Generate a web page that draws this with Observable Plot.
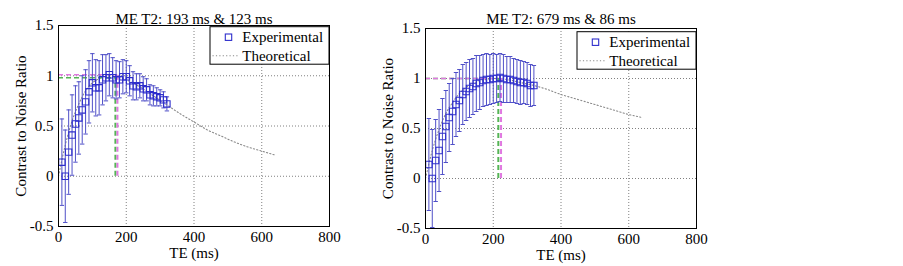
<!DOCTYPE html>
<html><head><meta charset="utf-8">
<script src="https://cdn.jsdelivr.net/npm/d3@7"></script>
<script src="https://cdn.jsdelivr.net/npm/@observablehq/plot@0.6"></script>
<style>
body{margin:0;background:#fff;width:903px;height:266px;position:relative;overflow:hidden;font-family:"Liberation Serif",serif}
.panel{position:absolute;top:0}
svg, svg text, svg tspan{font-family:"Liberation Serif","DejaVu Serif",serif !important;font-size:15px !important;}
</style></head><body>
<div id="p1" class="panel" style="left:0px"></div>
<div id="p2" class="panel" style="left:367px"></div>
<script>
// Echo times (ms) of the experimental points
const te = [10,20,30,40,50,60,70,80,90,100,110,120,130,140,150,160,170,180,190,200,210,220,230,240,250,260,270,280,290,300,310,320];
// Left panel (ME T2: 193 ms & 123 ms)
const leftCnr = [0.14,0.00,0.24,0.41,0.52,0.58,0.66,0.74,0.84,0.93,0.88,0.88,0.96,0.98,1.01,0.98,0.96,0.96,0.99,0.99,0.95,0.90,0.89,0.90,0.87,0.86,0.81,0.80,0.79,0.78,0.76,0.72];
const leftErr = [0.43,0.46,0.42,0.40,0.38,0.36,0.34,0.32,0.31,0.29,0.28,0.27,0.25,0.23,0.21,0.20,0.19,0.18,0.17,0.16,0.15,0.14,0.13,0.12,0.12,0.11,0.10,0.10,0.09,0.08,0.08,0.07];
// Right panel (ME T2: 679 ms & 86 ms)
const rightCnr = [0.14,0.00,0.18,0.28,0.42,0.52,0.61,0.67,0.74,0.78,0.84,0.87,0.90,0.92,0.95,0.96,0.98,0.99,0.99,1.00,1.00,1.01,1.00,0.99,0.99,0.98,0.97,0.96,0.96,0.95,0.93,0.93];
const rightErr = [0.46,0.49,0.41,0.41,0.38,0.36,0.34,0.33,0.32,0.31,0.30,0.29,0.29,0.28,0.28,0.27,0.26,0.26,0.25,0.25,0.24,0.24,0.24,0.23,0.23,0.22,0.22,0.22,0.21,0.21,0.21,0.20];
// Theoretical curves
const theoTe = [0,20,40,60,80,100,120,140,160,180,200,240,280,320,360,400,440,480,520,560,600,640];
const leftTheo = [0,0.31,0.55,0.72,0.85,0.93,0.97,1.00,1.00,0.99,0.96,0.89,0.80,0.71,0.62,0.54,0.46,0.40,0.34,0.29,0.25,0.21];
const rightTheo = [0,0.28,0.49,0.65,0.76,0.85,0.91,0.95,0.98,0.99,1.00,0.99,0.96,0.93,0.89,0.84,0.80,0.76,0.72,0.68,0.64,0.61];
// Optimal TE markers (green, magenta)
const peakColors = ["#55b455","#e078e0"];
const leftPeakTe = [168,174];
const leftPeakCnr = [0.98,1.01];
const rightPeakTe = [215,223];
const rightPeakCnr = [1.0,1.0];
// Axes
const xTicks = [0,200,400,600,800];
const xTickLabels = ["0","200","400","600","800"];
const yTicks = [-0.5,0,0.5,1,1.5];
const yTickLabels = ["-0.5","0","0.5","1","1.5"];
const xGrid = [200,400,600];
const yGrid = [0,0.5,1];
const titles = ["ME T2: 193 ms & 123 ms","ME T2: 679 ms & 86 ms"];
const legendLabels = ["Experimental","Theoretical"];
const xLabel = "TE (ms)";
const yLabel = "Contrast to Noise Ratio";

const BLUE = "#2e2ecc";
const BAR = "#5050c8";
const FONT = "'Liberation Serif', 'DejaVu Serif', serif";

function panel(el, cfg) {
  const rows = te.map((t,i)=>({te:t, v:cfg.cnr[i], lo:cfg.cnr[i]-cfg.err[i], hi:cfg.cnr[i]+cfg.err[i]}));
  const theo = theoTe.map((t,i)=>({te:t, v:cfg.theo[i]}));
  const peaks = cfg.peakTe.map((t,i)=>({te:t, v:cfg.peakCnr[i], c:peakColors[i]}));
  const cap = {draw(ctx){ const w=2.2; ctx.moveTo(-w,0); ctx.lineTo(w,0); }};
  const W = 350, H = 266, mL = 58, mR = 21;
  const plot = Plot.plot({
    width: W, height: H, marginLeft: mL, marginRight: mR, marginTop: cfg.mT, marginBottom: H - cfg.frameBottom,
    x: {domain: [0, 800]},
    y: {domain: [-0.5, 1.5]},
    color: {type: "identity"},
    style: {fontFamily: FONT, fontSize: "15px", color: "#000", background: "transparent"},
    marks: [
      Plot.gridX(xGrid, {stroke: "#808080", strokeOpacity: 1, strokeDasharray: "1,2"}),
      Plot.gridY(yGrid, {stroke: "#808080", strokeOpacity: 1, strokeDasharray: "1,2"}),
      Plot.line(theo, {x: "te", y: "v", stroke: "#8a8a8a", strokeDasharray: "1.2,2.2", strokeWidth: 1.1, curve: "monotone-x"}),
      Plot.ruleY(peaks, {y: "v", x1: 0, x2: "te", stroke: "c", strokeDasharray: "5,3", strokeWidth: 1.3}),
      Plot.ruleX(peaks, {x: "te", y1: 0, y2: "v", stroke: "c", strokeDasharray: "5,3", strokeWidth: 2}),
      Plot.ruleX(rows, {x: "te", y1: "lo", y2: "hi", stroke: BAR, strokeWidth: 1}),
      Plot.dot(rows, {x: "te", y: "lo", symbol: cap, stroke: BAR, r: 2, strokeWidth: 1}),
      Plot.dot(rows, {x: "te", y: "hi", symbol: cap, stroke: BAR, r: 2, strokeWidth: 1}),
      Plot.dot(rows, {x: "te", y: "v", symbol: "square", stroke: BLUE, fill: "none", r: 3.6, strokeWidth: 1.1}),
      Plot.frame({stroke: "#000", strokeWidth: 1}),
      Plot.axisX({ticks: xTicks, tickFormat: d => xTickLabels[xTicks.indexOf(d)], tickSize: 0, tickPadding: 5,
        label: xLabel, labelAnchor: "center", labelArrow: "none", labelOffset: 31, fontSize: 15}),
      Plot.axisY({ticks: yTicks, tickFormat: d => yTickLabels[yTicks.indexOf(d)], tickSize: 0, tickPadding: 5,
        label: yLabel, labelAnchor: "center", labelArrow: "none", labelOffset: 43, fontSize: 15}),
      Plot.text([cfg.title], {text: d => d, frameAnchor: "top", dy: cfg.titleDy, fontSize: 15, fill: "#000"})
    ]
  });
  // legend box (MATLAB style, top-right inside the axes)
  const svg = d3.select(plot);
  const fr = W - mR;
  const bw = 119, bh = 37.5, bx = fr - bw, by = cfg.mT + cfg.legendTop;
  const g = svg.append("g").attr("font-size", 15).attr("text-anchor", "start");
  g.append("rect").attr("x", bx).attr("y", by).attr("width", bw).attr("height", bh)
    .attr("fill", "#fff").attr("stroke", "#000").attr("stroke-width", 1);
  const r1 = by + 10.5, r2 = by + 29;
  g.append("rect").attr("x", bx + 18.5 - 3.2).attr("y", r1 - 3.2).attr("width", 6.4).attr("height", 6.4)
    .attr("fill", "none").attr("stroke", BLUE).attr("stroke-width", 1.1);
  g.append("line").attr("x1", bx + 2.5).attr("x2", bx + 27.5).attr("y1", r2).attr("y2", r2)
    .attr("stroke", "#8a8a8a").attr("stroke-dasharray", "1.2,2.2").attr("stroke-width", 1.1);
  g.append("text").attr("x", bx + 32.3).attr("y", r1).attr("dy", "0.35em").attr("fill", "#000").text(legendLabels[0]);
  g.append("text").attr("x", bx + 32.3).attr("y", r2).attr("dy", "0.35em").attr("fill", "#000").text(legendLabels[1]);
  document.getElementById(el).appendChild(plot);
}

panel("p1", {cnr: leftCnr, err: leftErr, theo: leftTheo, peakTe: leftPeakTe, peakCnr: leftPeakCnr,
  title: titles[0], mT: 25, frameBottom: 226, titleDy: -12, legendTop: 1.7});
panel("p2", {cnr: rightCnr, err: rightErr, theo: rightTheo, peakTe: rightPeakTe, peakCnr: rightPeakCnr,
  title: titles[1], mT: 28, frameBottom: 228, titleDy: -15, legendTop: 3.7});
</script>
</body></html>
